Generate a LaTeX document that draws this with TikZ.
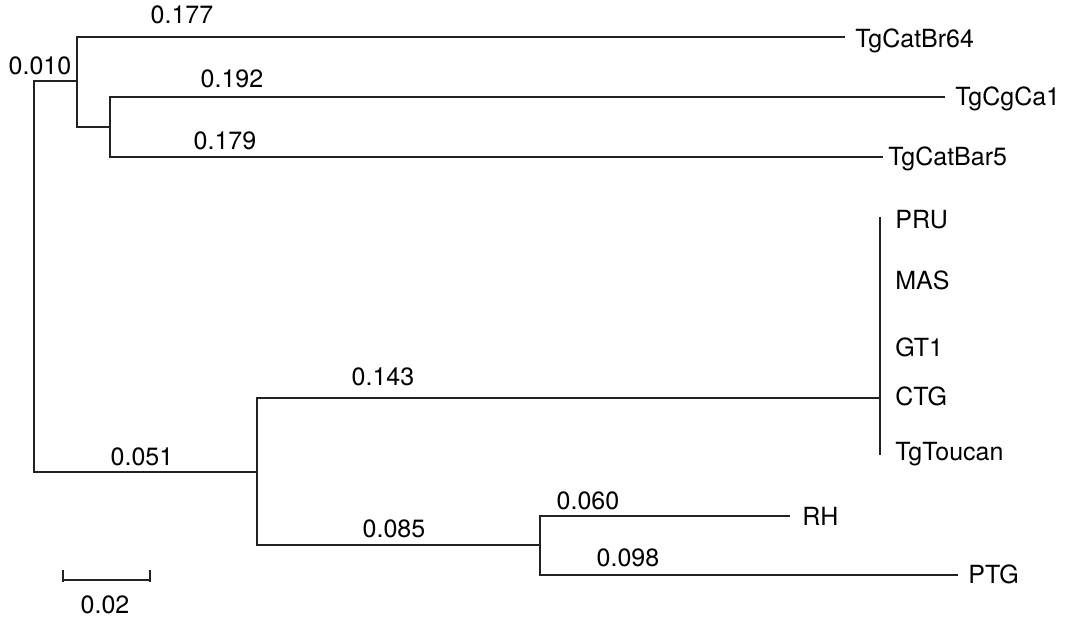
\documentclass[tikz,border=0pt]{standalone}
\usepackage{fontspec}
\setmainfont{TeX Gyre Heros}
\usepackage{tikz}
\usetikzlibrary{positioning, calc}
\definecolor{branchgray}{HTML}{222222}
\tikzset{
  branch/.style={draw=branchgray, line width=0.55pt},
  taxon/.style={anchor=west, inner sep=0pt, font=\fontsize{12.5}{15}\selectfont,
    text height=9pt, text depth=0pt},
  blen/.style={anchor=center, inner sep=0pt, font=\fontsize{12.5}{15}\selectfont,
    text height=9pt, text depth=0pt},
}
\begin{document}
\begin{tikzpicture}[x=0.5pt, y=-0.5pt]
\useasboundingbox (0,0) rectangle (1066,620);

% Internal nodes
\coordinate (root) at (34,276);
\coordinate (catA) at (77,81);
\coordinate (catB) at (110,127);
\coordinate (low) at (257,472);
\coordinate (clonal) at (880,398);
\coordinate (rhptg) at (540,545);

% Tips
\coordinate (tBr64) at (845,37);
\coordinate (tCgCa1) at (945,97);
\coordinate (tBar5) at (883,157);
\coordinate (tRH) at (790,516);
\coordinate (tPTG) at (958,575);
\coordinate (cTop) at (880,217);
\coordinate (cBot) at (880,455);

% Branches
\draw[branch] (root) |- (catA);
\draw[branch] (root) |- (low);
\draw[branch] (catA) |- (tBr64);
\draw[branch] (catA) |- (catB);
\draw[branch] (catB) |- (tCgCa1);
\draw[branch] (catB) |- (tBar5);
\draw[branch] (low) |- (clonal);
\draw[branch] (low) |- (rhptg);
\draw[branch] (rhptg) |- (tRH);
\draw[branch] (rhptg) |- (tPTG);
\draw[branch] (cTop) -- (cBot);
\draw[branch, line width=1.4pt] (880,343) -- (clonal);

% Taxon labels
\node[taxon] (lBr64) at (855,39) {TgCatBr64};
\node[taxon] (lCgCa1) at (955,97) {TgCgCa1};
\node[taxon] (lBar5) at (888,157) {TgCatBar5};
\node[taxon] (lPRU) at (895,220) {PRU};
\node[taxon] (lMAS) at (895,281) {MAS};
\node[taxon] (lGT1) at (895,348) {GT1};
\node[taxon] (lCTG) at (895,397) {CTG};
\node[taxon] (lToucan) at (895,451) {TgToucan};
\node[taxon] (lRH) at (802,516) {RH};
\node[taxon] (lPTG) at (968,574) {PTG};

% Branch lengths
\node[blen] (b177) at (182,15) {0.177};
\node[blen] (b010) at (40,66) {0.010};
\node[blen] (b192) at (232,79) {0.192};
\node[blen] (b179) at (225,141) {0.179};
\node[blen] (b143) at (383,377) {0.143};
\node[blen] (b051) at (142,457) {0.051};
\node[blen] (b085) at (394,528) {0.085};
\node[blen] (b060) at (588,500) {0.060};
\node[blen] (b098) at (628,557) {0.098};

% Scale bar
\coordinate (sL) at (63,580);
\coordinate (sR) at (150,580);
\draw[branch] (sL) -- (sR);
\draw[branch] ($(sL)+(0,-10)$) -- ($(sL)+(0,2)$);
\draw[branch] ($(sR)+(0,-10)$) -- ($(sR)+(0,2)$);
\node[blen] (scale) at (105,604) {0.02};

\end{tikzpicture}
\end{document}
